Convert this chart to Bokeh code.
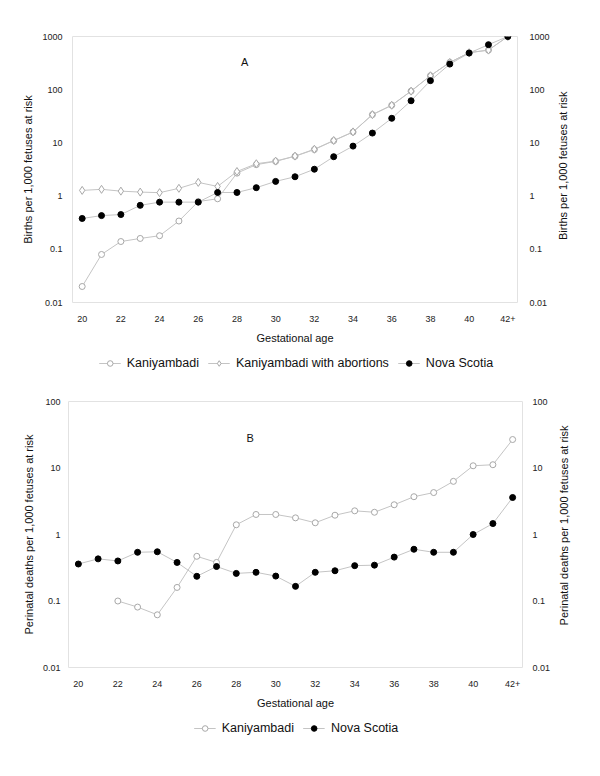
import math
from bokeh.plotting import figure
from bokeh.models import (LogAxis, FixedTicker, Legend, LegendItem, Label, Range1d)
from bokeh.layouts import column, row
from bokeh.embed import file_html
from bokeh.resources import INLINE

nan = float("nan")

# ---------------- data ----------------
weeks = [20, 21, 22, 23, 24, 25, 26, 27, 28, 29, 30, 31, 32, 33, 34, 35, 36, 37, 38, 39, 40, 41, 42]
x_ticks = [20, 22, 24, 26, 28, 30, 32, 34, 36, 38, 40, 42]
x_tick_labels = ["20", "22", "24", "26", "28", "30", "32", "34", "36", "38", "40", "42+"]

ya_ticks = [0.01, 0.1, 1, 10, 100, 1000]
ya_tick_labels = ["0.01", "0.1", "1", "10", "100", "1000"]
yb_ticks = [0.01, 0.1, 1, 10, 100]
yb_tick_labels = ["0.01", "0.1", "1", "10", "100"]

# Panel A: births per 1,000 fetuses at risk
kan_a = [0.02, 0.08, 0.14, 0.16, 0.18, 0.34, 0.79, 0.89, 2.7, 3.9, 4.5, 5.6,
         7.5, 11, 16, 34, 51, 94, 183, 326, 496, 555, 1000]
kan_abort_a = [1.28, 1.34, 1.24, 1.19, 1.16, 1.40, 1.81, 1.52, 2.9, 4.06, 4.55, 5.65,
               7.6, 11.1, 16.1, 34, 51, 94, 183, 326, 496, 555, 1000]
ns_a = [0.38, 0.43, 0.45, 0.67, 0.77, 0.77, 0.77, 1.17, 1.17, 1.44, 1.89, 2.31,
        3.2, 5.5, 8.7, 15.3, 29, 62, 148, 303, 488, 702, 1000]

# Panel B: perinatal deaths per 1,000 fetuses at risk
kan_b = [nan, nan, 0.10, 0.081, 0.062, 0.16, 0.47, 0.38, 1.4, 2.0, 2.0, 1.78,
         1.5, 1.95, 2.27, 2.16, 2.8, 3.7, 4.27, 6.3, 10.8, 11.2, 26.8]
ns_b = [0.36, 0.43, 0.40, 0.54, 0.55, 0.38, 0.235, 0.33, 0.26, 0.27, 0.237, 0.166,
        0.27, 0.285, 0.34, 0.346, 0.457, 0.60, 0.54, 0.54, 1.0, 1.46, 3.6]

FONT = "Liberation Sans"
LINE_C = "#c4c4c4"
OPEN_C = "#a8a8a8"


def style_axis(ax, ticks, labels, standoff):
    ax.ticker = FixedTicker(ticks=ticks)
    ax.major_label_overrides = {t: l for t, l in zip(ticks, labels)}
    ax.major_tick_out = 0
    ax.major_tick_in = 0
    ax.minor_tick_out = 0
    ax.minor_tick_in = 0
    ax.axis_line_color = None
    ax.major_label_text_font = FONT
    ax.major_label_text_font_size = "9px"
    ax.major_label_text_color = "#222222"
    ax.major_label_standoff = standoff
    ax.axis_label_text_font = FONT
    ax.axis_label_text_font_size = "11px"
    ax.axis_label_text_font_style = "normal"
    ax.axis_label_text_color = "#111111"


def make_panel(width, height, border_top, border_left, border_right, y_lo, y_hi, yticks,
               ylabels, ytitle, series, letter, letter_pos, lstand, rstand):
    p = figure(width=width, height=height, y_axis_type="log", title=None,
               x_range=Range1d(19.5, 42.5), y_range=Range1d(y_lo, y_hi),
               output_backend="svg", toolbar_location=None,
               min_border_top=border_top, min_border_left=border_left,
               min_border_right=border_right, min_border_bottom=46)
    p.outline_line_color = "#e2e2e2"
    p.outline_line_width = 1
    p.xgrid.visible = False
    p.ygrid.visible = False
    p.background_fill_color = "white"
    p.border_fill_color = "white"

    style_axis(p.xaxis[0], x_ticks, x_tick_labels, 13)
    p.xaxis[0].axis_label = "Gestational age"
    p.xaxis[0].axis_label_standoff = 7

    style_axis(p.yaxis[0], yticks, ylabels, lstand)
    p.yaxis[0].axis_label = ytitle
    p.yaxis[0].axis_label_standoff = 5

    ra = LogAxis()
    style_axis(ra, yticks, ylabels, rstand)
    p.add_layout(ra, "right")

    for name, vals, marker, fill, mcolor, size in series:
        p.line(weeks, vals, line_color=LINE_C, line_width=1)
        p.scatter(weeks, vals, marker=marker, size=size, fill_color=fill,
                  line_color=mcolor, line_width=1)

    p.add_layout(Label(x=letter_pos[0], y=letter_pos[1], text=letter,
                       text_font=FONT, text_font_size="11px", text_align="center",
                       text_baseline="middle", text_color="#111111"))
    return p


def make_title_strip(width, height, text, y_frac):
    # narrow strip to the right of a panel that holds the right-hand axis title
    s = figure(width=width, height=height, x_range=Range1d(0, 1), y_range=Range1d(0, 1),
               title=None, output_backend="svg", toolbar_location=None,
               x_axis_location=None, y_axis_location=None, min_border=0)
    s.outline_line_color = None
    s.grid.visible = False
    s.add_layout(Label(x=0.5, y=y_frac, text=text, angle=math.pi / 2,
                       text_font=FONT, text_font_size="11px", text_align="center",
                       text_baseline="middle", text_color="#111111"))
    return s


def make_legend(series, height):
    # legend strip: same series drawn outside the visible range, only the legend shows
    lp = figure(width=592, height=height, x_range=Range1d(0, 1), y_range=Range1d(0, 1),
                title=None, output_backend="svg", toolbar_location=None,
                x_axis_location=None, y_axis_location=None, min_border=0)
    lp.outline_line_color = None
    lp.grid.visible = False
    items = []
    for name, vals, marker, fill, mcolor, size in series:
        ln = lp.line(weeks, vals, line_color=LINE_C, line_width=1)
        sc = lp.scatter(weeks, vals, marker=marker, size=size, fill_color=fill,
                        line_color=mcolor, line_width=1)
        items.append(LegendItem(label=name, renderers=[ln, sc]))
    leg = Legend(items=items, orientation="horizontal", location="center")
    leg.label_text_font = FONT
    leg.label_text_font_size = "12.5px"
    leg.label_text_color = "#111111"
    leg.glyph_width = 22
    leg.glyph_height = 14
    leg.label_standoff = 6
    leg.label_height = 14
    leg.spacing = 9
    leg.padding = 0
    leg.margin = 0
    leg.border_line_color = None
    leg.background_fill_alpha = 0
    lp.add_layout(leg)
    return lp


series_a = [
    ("Kaniyambadi", kan_a, "circle", "white", OPEN_C, 6),
    ("Kaniyambadi with abortions", kan_abort_a, "diamond", "white", OPEN_C, 8),
    ("Nova Scotia", ns_a, "circle", "black", "black", 6),
]
series_b = [
    ("Kaniyambadi", kan_b, "circle", "white", OPEN_C, 6),
    ("Nova Scotia", ns_b, "circle", "black", "black", 6),
]

title_a = "Births per 1,000 fetuses at risk"
title_b = "Perinatal deaths per 1,000 fetuses at risk"

pa = make_panel(552, 348, 36, 72, 34, 0.01, 1000, ya_ticks, ya_tick_labels,
                title_a, series_a, "A", (28.4, 330), 10, 12)
sa = make_title_strip(20, 348, title_a, 0.514)
la = make_legend(series_a, 30)
pb = make_panel(553, 335, 23, 68, 31, 0.01, 100, yb_ticks, yb_tick_labels,
                title_b, series_b, "B", (28.7, 27.8), 8, 10)
sb = make_title_strip(20, 335, title_b, 0.534)
lb = make_legend(series_b, 30)

layout = column(row(pa, sa, spacing=0), la, row(pb, sb, spacing=0), lb, spacing=0)
open("out.html", "w").write(file_html(layout, INLINE))
